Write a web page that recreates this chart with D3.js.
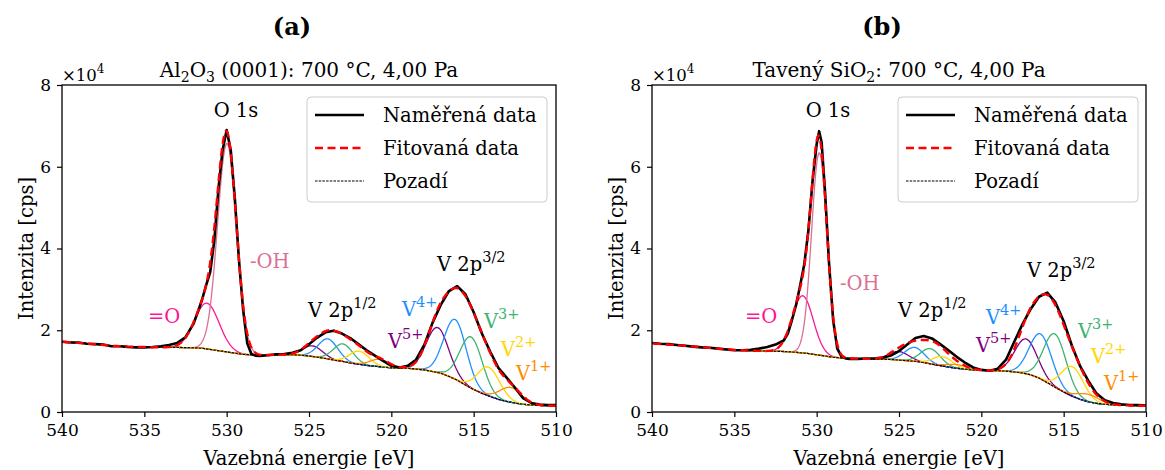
<!DOCTYPE html>
<html><head><meta charset="utf-8">
<script src="https://cdn.jsdelivr.net/npm/d3@7/dist/d3.min.js"></script>
<style>
body{margin:0;background:#fff;}
svg text{font-family:"DejaVu Serif",serif;fill:#000;}
</style></head><body>
<svg id="chart" width="1165" height="470"></svg>
<script>
// ---------------- data ----------------
const xTickValues=[540,535,530,525,520,515,510];
const yTickValues=[0,2,4,6,8];
const legendLabels=["Naměřená data","Fitovaná data","Pozadí"];
const stateNames=["5+","4+","3+","2+","1+"];
const stateColors=["#800080","#1e90ff","#3cb371","#ffd700","#ff8c00"];
const oxygenNames=["=O","-OH"];
const oxygenColors=["#ff1493","#db7093"];

// Panel (a) measured spectrum [binding energy eV, intensity x1e4 cps]
const measuredA=[[540,1.72],[539.5,1.70],[539,1.70],[538.5,1.67],[538,1.66],[537.5,1.65],[537,1.61],[536.5,1.61],[536,1.59],[535.5,1.58],[535,1.58],[534.5,1.59],[534,1.61],[533.5,1.64],[533,1.69],[532.5,1.83],[532,2.17],[531.75,2.45],[531.5,2.74],[531.25,3.10],[531,3.42],[530.75,4.20],[530.5,5.45],[530.25,6.40],[530,6.90],[529.75,6.40],[529.5,5.20],[529.25,3.70],[529,2.50],[528.75,1.68],[528.5,1.42],[528.25,1.38],[528,1.37],[527.5,1.39],[527,1.41],[526.5,1.42],[526,1.45],[525.5,1.51],[525,1.66],[524.5,1.82],[524,1.95],[523.5,1.99],[523,1.92],[522.5,1.81],[522,1.66],[521.5,1.51],[521,1.38],[520.5,1.25],[520,1.13],[519.5,1.09],[519,1.13],[518.5,1.28],[518,1.64],[517.5,2.18],[517,2.62],[516.5,2.96],[516,3.08],[515.5,2.88],[515,2.44],[514.5,1.92],[514,1.48],[513.5,1.08],[513,0.84],[512.5,0.60],[512,0.34],[511.5,0.22],[511,0.18],[510.5,0.17],[510,0.17]];
const backgroundA=[[540,1.72],[539,1.69],[538,1.66],[537,1.62],[536,1.60],[535,1.59],[534,1.58],[533,1.58],[532,1.57],[531.5,1.56],[531,1.53],[530.5,1.50],[530,1.47],[529.5,1.44],[529,1.41],[528.5,1.40],[528,1.39],[527,1.40],[526,1.40],[525.5,1.39],[525,1.37],[524.5,1.34],[524,1.31],[523.5,1.27],[523,1.24],[522.5,1.20],[522,1.17],[521.5,1.14],[521,1.12],[520.5,1.10],[520,1.08],[519.5,1.075],[519,1.07],[518.5,1.05],[518,1.03],[517.5,0.99],[517,0.95],[516.5,0.87],[516,0.78],[515.5,0.66],[515,0.55],[514.5,0.46],[514,0.38],[513.5,0.31],[513,0.26],[512.5,0.22],[512,0.19],[511.5,0.17],[511,0.16],[510.5,0.155],[510,0.15]];
const oCenterA=[531.2,529.98], oHeightA=[1.12,5.1], oWidthA=[1.75,1.35];
const v32CenterA=[517.2,516.13,515.15,514.09,512.75], v32HeightA=[1.10,1.46,1.25,0.70,0.36], v32WidthA=[1.6,1.6,1.6,1.6,1.6];
const v12CenterA=[524.78,523.85,522.93,521.95,520.71], v12HeightA=[0.26,0.49,0.43,0.32,0.18], v12WidthA=[1.4,1.4,1.4,1.4,1.4];

// Panel (b)
const measuredB=[[540,1.69],[539.5,1.67],[539,1.66],[538.5,1.64],[538,1.62],[537.5,1.60],[537,1.58],[536.5,1.57],[536,1.55],[535.5,1.53],[535,1.51],[534.5,1.51],[534,1.52],[533.5,1.55],[533,1.59],[532.5,1.65],[532,1.75],[531.75,1.92],[531.5,2.25],[531.25,2.62],[531,3.10],[530.75,3.62],[530.5,4.45],[530.25,5.65],[530,6.55],[529.85,6.87],[529.7,6.60],[529.5,5.45],[529.25,3.65],[529,2.25],[528.75,1.55],[528.5,1.36],[528.25,1.31],[528,1.30],[527.5,1.30],[527,1.31],[526.5,1.31],[526,1.33],[525.5,1.38],[525,1.49],[524.5,1.65],[524,1.81],[523.5,1.86],[523,1.80],[522.5,1.66],[522,1.51],[521.5,1.35],[521,1.21],[520.5,1.09],[520,1.03],[519.5,1.01],[519,1.06],[518.5,1.28],[518,1.72],[517.5,2.15],[517,2.52],[516.5,2.82],[516,2.92],[515.5,2.68],[515,2.22],[514.5,1.62],[514,1.12],[513.5,0.76],[513,0.45],[512.5,0.29],[512,0.22],[511.5,0.19],[511,0.17],[510.5,0.17],[510,0.16]];
const backgroundB=[[540,1.68],[539,1.65],[538,1.62],[537,1.585],[536,1.55],[535,1.52],[534,1.50],[533,1.49],[532,1.48],[531.5,1.47],[531,1.45],[530.5,1.43],[530,1.40],[529.5,1.37],[529,1.34],[528.5,1.32],[528,1.31],[527,1.30],[526,1.29],[525.5,1.285],[525,1.27],[524.5,1.255],[524,1.24],[523.5,1.21],[523,1.17],[522.5,1.135],[522,1.10],[521.5,1.07],[521,1.05],[520.5,1.03],[520,1.02],[519.5,1.01],[519,1.01],[518.5,1.00],[518,0.98],[517.5,0.955],[517,0.91],[516.5,0.83],[516,0.72],[515.5,0.60],[515,0.49],[514.5,0.39],[514,0.31],[513.5,0.25],[513,0.21],[512.5,0.19],[512,0.175],[511.5,0.165],[511,0.16],[510.5,0.155],[510,0.15]];
const oCenterB=[530.85,529.84], oHeightB=[1.40,4.95], oWidthB=[1.5,1.1];
const v32CenterB=[517.29,516.40,515.53,514.47,513.5], v32HeightB=[0.85,1.10,1.30,0.72,0.18], v32WidthB=[1.6,1.6,1.6,1.6,1.6];
const v12CenterB=[525.01,524.06,523.09,522.34,521.5], v12HeightB=[0.21,0.34,0.37,0.23,0.09], v12WidthB=[1.4,1.4,1.4,1.4,1.4];

// ---------------- layout ----------------
const panels=[
 {id:"a",tag:"(a)",tagX:292,x0:62,x1:556,
  title:[["Al",0],["2",1],["O",0],["3",1],[" (0001): 700 °C, 4,00 Pa",0]],
  meas:measuredA,bg:backgroundA,oC:oCenterA,oH:oHeightA,oW:oWidthA,
  c32:v32CenterA,h32:v32HeightA,w32:v32WidthA,c12:v12CenterA,h12:v12HeightA,w12:v12WidthA,
  lab:{o1s:[236,117],oh:[250,268],eo:[148,323],p12:[308,317],p32:[437,271],
       st:[[388,348],[402,316],[484,328],[501,356],[516,380]]},
  leg:[307,97]},
 {id:"b",tag:"(b)",tagX:882,x0:652,x1:1146,
  title:[["Tavený SiO",0],["2",1],[": 700 °C, 4,00 Pa",0]],
  meas:measuredB,bg:backgroundB,oC:oCenterB,oH:oHeightB,oW:oWidthB,
  c32:v32CenterB,h32:v32HeightB,w32:v32WidthB,c12:v12CenterB,h12:v12HeightB,w12:v12WidthB,
  lab:{o1s:[828,117],oh:[840,290],eo:[745,323],p12:[898,317],p32:[1027,277],
       st:[[976,352],[986,324],[1078,338],[1091,363],[1104,390]]},
  leg:[898,97]}
];
const Y0=412, Y1=85;
const FONT='"DejaVu Serif",serif';
const FS=19.5, SUP=14.5;
const svg=d3.select("#chart");
function gauss(E,c,h,w){const s=w/2.3548;return h*Math.exp(-((E-c)*(E-c))/(2*s*s));}

function supText(sel,x,y,base,sup,color,anchor){
  const t=sel.append("text").attr("x",x).attr("y",y).attr("font-size",FS).style("fill",color).attr("text-anchor",anchor||"start");
  t.append("tspan").text(base);
  t.append("tspan").attr("dy",-9).attr("font-size",SUP).text(sup);
  return t;
}

panels.forEach(p=>{
  const x=d3.scaleLinear().domain([540,510]).range([p.x0,p.x1]);
  const y=d3.scaleLinear().domain([0,8]).range([Y0,Y1]);
  const bgSorted=p.bg.slice().sort((a,b)=>a[0]-b[0]);
  const bgAt=d3.scaleLinear().domain(bgSorted.map(d=>d[0])).range(bgSorted.map(d=>d[1])).clamp(true);
  const grid=d3.range(510,540.0001,0.05);
  const line=d3.line().x(d=>x(d[0])).y(d=>y(d[1]));

  svg.append("clipPath").attr("id","clip"+p.id).append("rect")
    .attr("x",p.x0).attr("y",Y1).attr("width",p.x1-p.x0).attr("height",Y0-Y1);
  const plot=svg.append("g").attr("clip-path",`url(#clip${p.id})`);

  p.oC.forEach((c,i)=>{
    const pts=grid.map(E=>[E,bgAt(E)+gauss(E,c,p.oH[i],p.oW[i])]);
    plot.append("path").attr("d",line(pts)).attr("fill","none")
      .attr("stroke",oxygenColors[i]).attr("stroke-width",1.3);
  });
  p.c32.forEach((c,i)=>{
    const pts=grid.map(E=>[E,bgAt(E)+gauss(E,c,p.h32[i],p.w32[i])+gauss(E,p.c12[i],p.h12[i],p.w12[i])]);
    plot.append("path").attr("d",line(pts)).attr("fill","none")
      .attr("stroke",stateColors[i]).attr("stroke-width",1.3);
  });
  plot.append("path").attr("d",line(p.bg)).attr("fill","none")
    .attr("stroke","#000").attr("stroke-width",1.1).attr("stroke-dasharray","2.5,1.2");
  plot.append("path").attr("d",line(p.meas)).attr("fill","none")
    .attr("stroke","#000").attr("stroke-width",2.6).attr("stroke-linejoin","round");
  const fit=grid.map(E=>{
    let v=bgAt(E);
    p.oC.forEach((c,i)=>v+=gauss(E,c,p.oH[i],p.oW[i]));
    p.c32.forEach((c,i)=>v+=gauss(E,c,p.h32[i],p.w32[i])+gauss(E,p.c12[i],p.h12[i],p.w12[i]));
    return [E,v];
  });
  plot.append("path").attr("d",line(fit)).attr("fill","none")
    .attr("stroke","#ff0000").attr("stroke-width",2.4).attr("stroke-dasharray","8,4.5");

  svg.append("rect").attr("x",p.x0).attr("y",Y1).attr("width",p.x1-p.x0).attr("height",Y0-Y1)
    .attr("fill","none").attr("stroke","#000").attr("stroke-width",1.3);

  const xa=svg.append("g").attr("transform",`translate(0,${Y0})`)
    .call(d3.axisBottom(x).tickValues(xTickValues).tickSize(5).tickPadding(7).tickFormat(d3.format("d")));
  const ya=svg.append("g").attr("transform",`translate(${p.x0},0)`)
    .call(d3.axisLeft(y).tickValues(yTickValues).tickSize(5).tickPadding(6).tickFormat(d3.format("d")));
  [xa,ya].forEach(a=>{
    a.attr("font-family",FONT);
    a.select(".domain").remove();
    a.selectAll(".tick line").attr("stroke","#000").attr("stroke-width",1.2);
    a.selectAll(".tick text").attr("font-size",17).style("font-family",FONT).style("fill","#000");
  });

  const off=svg.append("text").attr("x",p.x0).attr("y",81).attr("font-size",16.5);
  off.append("tspan").text("×10");
  off.append("tspan").attr("dy",-8).attr("font-size",12).text("4");

  svg.append("text").attr("x",p.tagX).attr("y",35).attr("text-anchor","middle")
    .attr("font-size",24).attr("font-weight","bold").text(p.tag);
  const tt=svg.append("text").attr("x",(p.x0+p.x1)/2).attr("y",77).attr("text-anchor","middle").attr("font-size",20);
  let shifted=false;
  p.title.forEach(([s,sub])=>{
    const ts=tt.append("tspan").text(s);
    if(sub){ts.attr("font-size",14).attr("dy",5);shifted=true;}
    else if(shifted){ts.attr("dy",-5);shifted=false;}
  });

  svg.append("text").attr("x",(p.x0+p.x1)/2).attr("y",465).attr("text-anchor","middle")
    .attr("font-size",FS).text("Vazebná energie [eV]");
  svg.append("text").attr("transform",`translate(${p.x0-29},${(Y0+Y1)/2}) rotate(-90)`)
    .attr("text-anchor","middle").attr("font-size",FS).text("Intenzita [cps]");

  const L=p.lab;
  svg.append("text").attr("x",L.o1s[0]).attr("y",L.o1s[1]).attr("text-anchor","middle").attr("font-size",FS).text("O 1s");
  svg.append("text").attr("x",L.oh[0]).attr("y",L.oh[1]).attr("font-size",FS).style("fill",oxygenColors[1]).text(oxygenNames[1]);
  svg.append("text").attr("x",L.eo[0]).attr("y",L.eo[1]).attr("font-size",FS).style("fill",oxygenColors[0]).text(oxygenNames[0]);
  supText(svg,L.p12[0],L.p12[1],"V 2p","1/2","#000");
  supText(svg,L.p32[0],L.p32[1],"V 2p","3/2","#000");
  stateNames.forEach((n,i)=>supText(svg,L.st[i][0],L.st[i][1],"V",n,stateColors[i]));

  const [lx,ly]=p.leg;
  const lg=svg.append("g");
  lg.append("rect").attr("x",lx).attr("y",ly).attr("width",240).attr("height",105).attr("rx",4)
    .attr("fill","#fff").attr("fill-opacity",0.8).attr("stroke","#cccccc").attr("stroke-width",1);
  const rows=[115,148,181];
  const styles=[{c:"#000",w:2.6,d:null},{c:"#ff0000",w:2.4,d:"8,4.5"},{c:"#000",w:1.1,d:"2.5,1.2"}];
  legendLabels.forEach((t,i)=>{
    const l=lg.append("line").attr("x1",lx+8).attr("x2",lx+57).attr("y1",rows[i]).attr("y2",rows[i])
      .attr("stroke",styles[i].c).attr("stroke-width",styles[i].w);
    if(styles[i].d) l.attr("stroke-dasharray",styles[i].d);
    lg.append("text").attr("x",lx+76).attr("y",rows[i]+7).attr("font-size",FS).text(t);
  });
});
</script></body></html>
